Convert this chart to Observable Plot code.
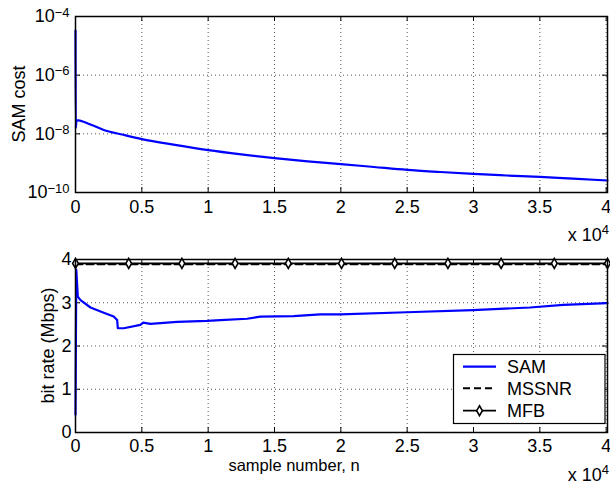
<!DOCTYPE html>
<html><head><meta charset="utf-8">
<script src="https://cdn.jsdelivr.net/npm/d3@7"></script>
<script src="https://cdn.jsdelivr.net/npm/@observablehq/plot@0.6"></script>
<style>
body{margin:0;background:#fff}
#chart svg{display:block}
</style>
</head><body><div id="chart"></div>
<script>
// ---- data ----
const xTicks = [0,5000,10000,15000,20000,25000,30000,35000,40000];
const xTickLabels = ["0","0.5","1","1.5","2","2.5","3","3.5","4"];
const costTicks = [1e-4,1e-6,1e-8,1e-10];
const costTickLabels = ["10^−4","10^−6","10^−8","10^−10"];
const rateTicks = [0,1,2,3,4];
const rateTickLabels = ["0","1","2","3","4"];

// top panel: SAM cost
const samCostN = [0,20,80,1130,2130,3500,5000,7500,10000,12500,15000,17500,20000,22500,25000,27500,30000,32500,35000,37500,40100];
const samCostV = [3.3e-5,1.6e-8,2.95e-8,2.09e-8,1.35e-8,9.5e-9,6.6e-9,4.2e-9,2.8e-9,2.0e-9,1.48e-9,1.15e-9,9.3e-10,7.4e-10,5.9e-10,5.0e-10,4.3e-10,3.8e-10,3.4e-10,2.95e-10,2.57e-10];

// bottom panel: bit rate
const samRateN = [0,60,175,375,1130,2130,2880,3140,3190,3640,4890,5100,5650,7660,9920,10920,12930,13930,16440,18450,19950,24980,29950,34260,36770,40100];
const samRateV = [0.41,3.76,3.14,3.06,2.89,2.77,2.68,2.60,2.41,2.41,2.49,2.54,2.51,2.56,2.58,2.60,2.63,2.68,2.69,2.73,2.73,2.78,2.83,2.89,2.95,2.99];
const mssnrN = [0,40100];
const mssnrV = [3.89,3.89];
const mfbN = [0,4010,8020,12030,16040,20050,24060,28070,32080,36090,40100];
const mfbV = [3.91,3.91,3.91,3.91,3.91,3.91,3.91,3.91,3.91,3.91,3.91];

const seriesNames = ["SAM","MSSNR","MFB"];

// ---- build tables ----
const costData = samCostN.map((n,i)=>({n, v: samCostV[i]}));
const rateData = samRateN.map((n,i)=>({n, v: samRateV[i]}));
const mssnrData = mssnrN.map((n,i)=>({n, v: mssnrV[i]}));
const mfbData = mfbN.map((n,i)=>({n, v: mfbV[i]}));

const FONT = "'Liberation Sans', Arial, Helvetica, sans-serif";
const W = 610, H1 = 243, H2 = 243;
const ML = 75, MR = 3;
const PW = W - ML - MR;
const gridStyle = {stroke: "#555", strokeOpacity: 1, strokeWidth: 1, strokeDasharray: "1,3"};

function commonTicks(yTicks, plotH) {
  return [
    Plot.ruleX(xTicks, {stroke: "black", strokeWidth: 1, insetTop: plotH - 5}),
    Plot.ruleX(xTicks, {stroke: "black", strokeWidth: 1, insetBottom: plotH - 5}),
    Plot.ruleY(yTicks, {stroke: "black", strokeWidth: 1, insetRight: PW - 5}),
    Plot.ruleY(yTicks, {stroke: "black", strokeWidth: 1, insetLeft: PW - 5})
  ];
}

const topPlot = Plot.plot({
  width: W, height: H1,
  marginTop: 16, marginBottom: 51, marginLeft: ML, marginRight: MR,
  style: {fontFamily: FONT, fontSize: "18px", background: "white", color: "black", overflow: "visible"},
  x: {domain: [0, 40100]},
  y: {type: "log", domain: [1e-10, 1e-4]},
  marks: [
    Plot.gridX(xTicks, gridStyle),
    Plot.gridY(costTicks, gridStyle),
    Plot.axisX(xTicks, {tickSize: 0, tickPadding: 8, fontSize: 18, label: null,
      tickFormat: d => xTickLabels[xTicks.indexOf(d)]}),
    Plot.axisY(costTicks, {tickSize: 0, tickPadding: 6, fontSize: 18, label: null,
      tickFormat: d => costTickLabels[costTicks.indexOf(d)]}),
    ...commonTicks(costTicks, 176),
    Plot.line(costData, {x: "n", y: "v", stroke: "#0000ff", strokeWidth: 2.2, curve: "monotone-x"}),
    Plot.frame({stroke: "black", strokeWidth: 1.5})
  ]
});

const botPlot = Plot.plot({
  width: W, height: H2,
  marginTop: 16, marginBottom: 54, marginLeft: ML, marginRight: MR,
  style: {fontFamily: FONT, fontSize: "18px", background: "white", color: "black", overflow: "visible"},
  x: {domain: [0, 40100]},
  y: {domain: [0, 4]},
  marks: [
    Plot.gridX(xTicks, gridStyle),
    Plot.gridY(rateTicks, gridStyle),
    Plot.axisX(xTicks, {tickSize: 0, tickPadding: 7, fontSize: 18, label: null,
      tickFormat: d => xTickLabels[xTicks.indexOf(d)]}),
    Plot.axisY(rateTicks, {tickSize: 0, tickPadding: 4, fontSize: 18, label: null,
      tickFormat: d => rateTickLabels[rateTicks.indexOf(d)]}),
    ...commonTicks(rateTicks, 173),
    Plot.line(rateData, {x: "n", y: "v", stroke: "#0000ff", strokeWidth: 2.2}),
    Plot.line(mssnrData, {x: "n", y: "v", stroke: "black", strokeWidth: 2, strokeDasharray: "7,4"}),
    Plot.line(mfbData, {x: "n", y: "v", stroke: "black", strokeWidth: 1.8}),
    Plot.dot(mfbData, {x: "n", y: "v", symbol: "diamond", r: 3, stroke: "black", strokeWidth: 1.6, fill: "white"}),
    Plot.frame({stroke: "black", strokeWidth: 1.5})
  ]
});

// enforce tick label font size
[topPlot, botPlot].forEach(svg => {
  d3.select(svg).selectAll('g[aria-label="x-axis tick label"], g[aria-label="y-axis tick label"]')
    .attr("font-size", 18).style("font-size", "18px");
  d3.select(svg).selectAll('g[aria-label="x-axis tick label"] text, g[aria-label="y-axis tick label"] text')
    .attr("font-size", 18);
});

// superscript exponents for log tick labels
d3.select(topPlot).selectAll('g[aria-label="y-axis tick label"] text').each(function(){
  const t = d3.select(this);
  const s = t.text();
  const parts = s.split("^");
  if (parts.length === 2) {
    t.text(parts[0]);
    t.append("tspan").attr("dy", "-0.42em").attr("font-size", "13px").text(parts[1]);
  }
});

function addMultiplier(svg, xEnd, y) {
  const t = d3.select(svg).append("text")
    .attr("x", xEnd).attr("y", y).attr("text-anchor", "end")
    .attr("font-family", FONT).attr("font-size", 18).attr("fill", "black");
  t.append("tspan").text("x 10");
  t.append("tspan").attr("dy", "-0.55em").attr("font-size", "13px").text("4");
}
addMultiplier(topPlot, 609, 241);
addMultiplier(botPlot, 609, 238);

function addYLabel(svg, x, y, label) {
  d3.select(svg).append("text")
    .attr("transform", `translate(${x},${y}) rotate(-90)`)
    .attr("text-anchor", "middle")
    .attr("font-family", FONT).attr("font-size", 18).attr("fill", "black")
    .text(label);
}
addYLabel(topPlot, 25, 104, "SAM cost");
addYLabel(botPlot, 54, 102.5, "bit rate (Mbps)");

d3.select(botPlot).append("text")
  .attr("x", 294).attr("y", 228).attr("text-anchor", "middle")
  .attr("font-family", FONT).attr("font-size", 16.5).attr("fill", "black")
  .text("sample number, n");

// legend
(function(){
  const g = d3.select(botPlot).append("g").attr("font-family", FONT).attr("font-size", 18)
    .attr("text-anchor", "start");
  g.append("rect").attr("x", 453.5).attr("y", 111.5).attr("width", 151.5).attr("height", 69)
    .attr("fill", "white").attr("stroke", "black").attr("stroke-width", 1.2);
  const ys = [123.7, 145.3, 167.7];
  const styles = [
    {stroke: "#0000ff", w: 2.2, dash: null},
    {stroke: "black", w: 2, dash: "7,4"},
    {stroke: "black", w: 1.8, dash: null}
  ];
  seriesNames.forEach((name, i) => {
    const l = g.append("line").attr("x1", 463).attr("x2", 496).attr("y1", ys[i]).attr("y2", ys[i])
      .attr("stroke", styles[i].stroke).attr("stroke-width", styles[i].w);
    if (styles[i].dash) l.attr("stroke-dasharray", styles[i].dash);
    if (name === "MFB") {
      g.append("path").attr("transform", `translate(479.5,${ys[i]})`)
        .attr("d", d3.symbol(d3.symbolDiamond, Math.PI * 3 * 3)())
        .attr("fill", "white").attr("stroke", "black").attr("stroke-width", 1.6);
    }
    g.append("text").attr("x", 507).attr("y", ys[i]).attr("dy", "0.36em")
      .attr("text-anchor", "start").attr("fill", "black").text(name);
  });
})();

document.getElementById("chart").append(topPlot, botPlot);
</script>
</body></html>
